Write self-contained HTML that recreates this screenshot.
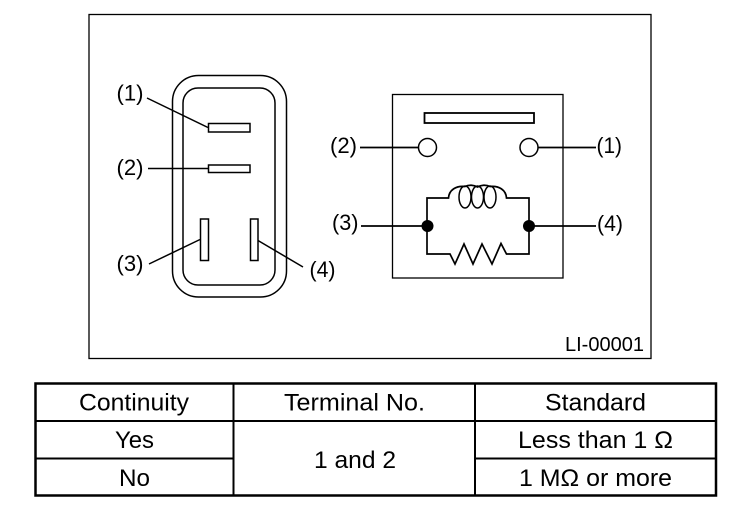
<!DOCTYPE html>
<html><head><meta charset="utf-8"><style>
html,body{margin:0;padding:0;background:#fff}
svg{display:block}
text{font-family:"Liberation Sans",sans-serif;fill:#000}
</style></head><body>
<svg width="752" height="526" viewBox="0 0 752 526" xmlns="http://www.w3.org/2000/svg">
<rect width="752" height="526" fill="#fff"/>
<rect x="89" y="14.500" width="562" height="344" fill="none" stroke="#000" stroke-width="1.300"/>
<g fill="none" stroke="#000" stroke-width="1.500">
<rect x="172.500" y="75.500" width="114" height="221.500" rx="26" ry="26"/>
<rect x="183" y="88" width="92" height="197" rx="15" ry="15"/>
<rect x="208.500" y="123.500" width="41.500" height="8.500" fill="#fff"/>
<rect x="208.500" y="165" width="41.500" height="7.500" fill="#fff"/>
<rect x="200.500" y="219" width="8" height="41.500" fill="#fff"/>
<rect x="250.500" y="219" width="7.500" height="41.500" fill="#fff"/>
<path d="M147 98 L208 127.500 M148 168.500 H208 M149 264 L200 239.500 M258 240.500 L303 267"/>
<rect x="392.500" y="94.500" width="170.500" height="183.500" stroke-width="1.300"/>
<rect x="424.500" y="113" width="109.500" height="10" stroke-width="1.800"/>
<circle cx="427.500" cy="147.500" r="9"/>
<circle cx="529" cy="147.500" r="9"/>
<path d="M360 147.500 H418.500 M538 147.500 H596 M361 226 H427 M529 226 H596" stroke-width="1.700"/>
<path d="M427 226 V198 H448.500 C449 190 456 185.500 465 186.500 C469 184.500 474 185 477.500 187 C481 185 486 184.500 490 186.500 C499 185.500 506 190 506.500 198 H529 V254 H506.500 L501 243.500 L492 264 L482 244 L473 264 L464 244 L455 264 L450 254 H427 Z" stroke-width="1.700" stroke-linejoin="miter"/>
<ellipse cx="465" cy="197" rx="6" ry="11"/>
<ellipse cx="477.500" cy="197" rx="6" ry="11"/>
<ellipse cx="490" cy="197" rx="6" ry="11"/>
</g>
<circle cx="427.500" cy="226" r="6"/>
<circle cx="529" cy="226" r="6"/>
<g font-size="22">
<text x="116.500" y="100.500" textLength="27" lengthAdjust="spacingAndGlyphs">(1)</text>
<text x="116.500" y="175" textLength="27" lengthAdjust="spacingAndGlyphs">(2)</text>
<text x="116.500" y="271" textLength="27" lengthAdjust="spacingAndGlyphs">(3)</text>
<text x="309.500" y="277" textLength="26" lengthAdjust="spacingAndGlyphs">(4)</text>
<text x="330" y="153" textLength="27" lengthAdjust="spacingAndGlyphs">(2)</text>
<text x="332" y="230" textLength="26.500" lengthAdjust="spacingAndGlyphs">(3)</text>
<text x="596.500" y="153" textLength="25.500" lengthAdjust="spacingAndGlyphs">(1)</text>
<text x="597" y="231" textLength="26" lengthAdjust="spacingAndGlyphs">(4)</text>
</g>
<text x="565" y="351" font-size="20" textLength="79" lengthAdjust="spacingAndGlyphs">LI-00001</text>
<rect x="35.500" y="383.500" width="680.500" height="112" fill="none" stroke="#000" stroke-width="2.500"/>
<path d="M233.500 383 V496 M475 383 V496 M35 421 H716 M35 458.500 H233.500 M475 458.500 H716" stroke="#000" stroke-width="2" fill="none"/>
<g font-size="24">
<text x="79" y="410.500" textLength="110" lengthAdjust="spacingAndGlyphs">Continuity</text>
<text x="284" y="410.500" textLength="141" lengthAdjust="spacingAndGlyphs">Terminal No.</text>
<text x="545" y="410.500" textLength="101" lengthAdjust="spacingAndGlyphs">Standard</text>
<text x="115" y="448" textLength="39" lengthAdjust="spacingAndGlyphs">Yes</text>
<text x="119" y="486" textLength="31" lengthAdjust="spacingAndGlyphs">No</text>
<text x="314" y="468" textLength="82" lengthAdjust="spacingAndGlyphs">1 and 2</text>
<text x="518" y="448" textLength="155" lengthAdjust="spacingAndGlyphs">Less than 1 Ω</text>
<text x="519" y="486" textLength="153" lengthAdjust="spacingAndGlyphs">1 MΩ or more</text>
</g>
</svg>
</body></html>
